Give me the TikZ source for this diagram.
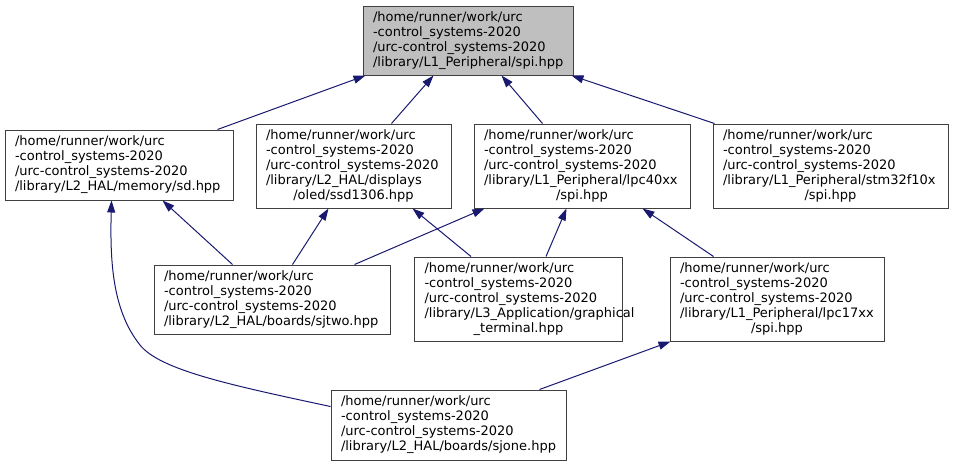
\documentclass[tikz,border=0pt]{standalone}
\usepackage{fontspec}
\setmainfont{DejaVu Sans}
\usepackage{xcolor}
\definecolor{edgeblue}{HTML}{191970}
\definecolor{boxgray}{HTML}{404040}
\definecolor{curfill}{HTML}{BFBFBF}
\usetikzlibrary{arrows.meta}
\newcommand{\lastline}[1]{\par{\centering #1\par}}

\begin{document}
\begin{tikzpicture}[x=1pt,y=-1pt,
  file/.style={draw=boxgray,fill=white,line width=1pt,inner xsep=10pt,inner ysep=0pt,align=left,font=\fontsize{13}{15}\selectfont},
  dep/.style={-{Triangle[length=12pt,width=8pt]},draw=edgeblue,line width=1pt}
]
\useasboundingbox (0,0) rectangle (955,467);
% files
\node[file,fill=curfill,text width=190pt,minimum height=69pt] (spi) at (468,40.5) {/home/runner/work/urc\\-control\_systems-2020\\/urc-control\_systems-2020\\/library/L1\_Peripheral/spi.hpp};
\node[file,text width=208pt,minimum height=70pt] (sd) at (119,165) {/home/runner/work/urc\\-control\_systems-2020\\/urc-control\_systems-2020\\/library/L2\_HAL/memory/sd.hpp};
\node[file,text width=175pt,minimum height=84pt] (oled) at (353.5,166) {/home/runner/work/urc\\-control\_systems-2020\\/urc-control\_systems-2020\\/library/L2\_HAL/displays\lastline{/oled/ssd1306.hpp}};
\node[file,text width=196pt,minimum height=84pt] (lpcforty) at (582,166) {/home/runner/work/urc\\-control\_systems-2020\\/urc-control\_systems-2020\\/library/L1\_Peripheral/lpc40xx\lastline{/spi.hpp}};
\node[file,text width=215pt,minimum height=84pt] (stm) at (830.5,166) {/home/runner/work/urc\\-control\_systems-2020\\/urc-control\_systems-2020\\/library/L1\_Peripheral/stm32f10x\lastline{/spi.hpp}};
\node[file,text width=216pt,minimum height=69pt] (sjtwo) at (272,299.5) {/home/runner/work/urc\\-control\_systems-2020\\/urc-control\_systems-2020\\/library/L2\_HAL/boards/sjtwo.hpp};
\node[file,text width=188pt,minimum height=84pt] (term) at (518.5,299) {/home/runner/work/urc\\-control\_systems-2020\\/urc-control\_systems-2020\\/library/L3\_Application/graphical\lastline{\_terminal.hpp}};
\node[file,text width=194pt,minimum height=84pt] (lpcseventeen) at (777,299) {/home/runner/work/urc\\-control\_systems-2020\\/urc-control\_systems-2020\\/library/L1\_Peripheral/lpc17xx\lastline{/spi.hpp}};
\node[file,text width=215pt,minimum height=70pt] (sjone) at (448.5,425) {/home/runner/work/urc\\-control\_systems-2020\\/urc-control\_systems-2020\\/library/L2\_HAL/boards/sjone.hpp};
% includes
\draw[dep] ([xshift=213pt]sd.north west) -- ([xshift=3pt]spi.south west);
\draw[dep] ([xshift=136pt]oled.north west) -- ([xshift=71pt]spi.south west);
\draw[dep] ([xshift=69pt]lpcforty.north west) -- ([xshift=139pt]spi.south west);
\draw[dep] ([xshift=2pt]stm.north west) -- ([xshift=-2pt]spi.south east);
\draw[dep] ([xshift=79pt]sjtwo.north west) -- ([xshift=158pt]sd.south west);
\draw[dep] ([yshift=-17pt]sjone.north west) .. controls (230,385) and (160,370) .. (140,345) .. controls (112,310) and (110,260) .. ([xshift=107pt]sd.south west);
\draw[dep] ([xshift=139pt]sjtwo.north west) -- ([xshift=73pt]oled.south west);
\draw[dep] ([xshift=201pt]sjtwo.north west) -- ([xshift=11pt]lpcforty.south west);
\draw[dep] ([xshift=57pt]term.north west) -- ([xshift=157pt]oled.south west);
\draw[dep] ([xshift=132pt]term.north west) -- ([xshift=93pt]lpcforty.south west);
\draw[dep] ([xshift=44pt]lpcseventeen.north west) -- ([xshift=169pt]lpcforty.south west);
\draw[dep] ([xshift=209pt]sjone.north west) -- ([xshift=1pt]lpcseventeen.south west);
\end{tikzpicture}
\end{document}
